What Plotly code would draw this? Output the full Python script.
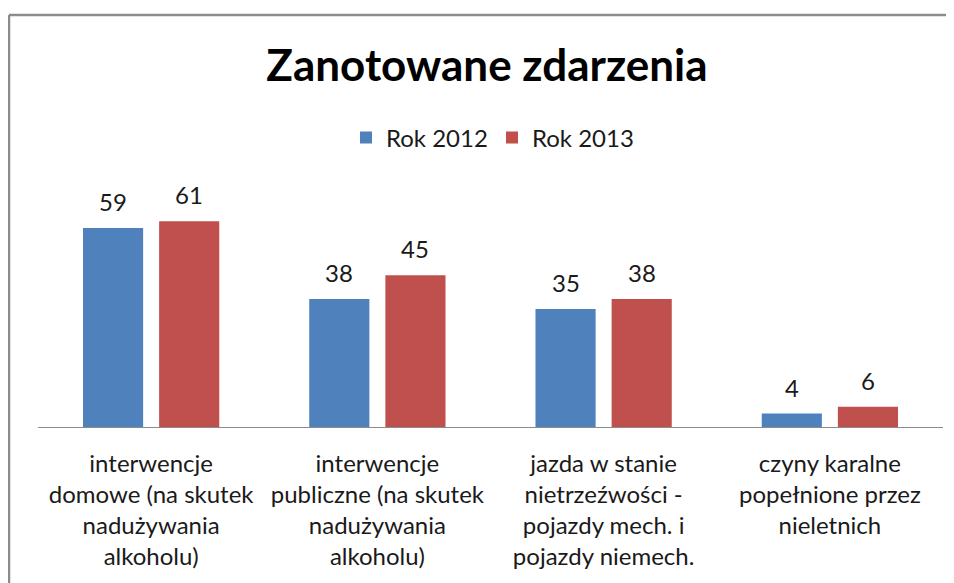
import plotly.graph_objects as go

categories = ["domowe", "publiczne", "jazda", "nieletni"]
tick_labels = [
    "interwencje<br>domowe (na skutek<br>nadużywania<br>alkoholu)",
    "interwencje<br>publiczne (na skutek<br>nadużywania<br>alkoholu)",
    "jazda w stanie<br>nietrzeźwości -<br>pojazdy mech. i<br>pojazdy niemech.",
    "czyny karalne<br>popełnione przez<br>nieletnich",
]
series_names = ["Rok 2012", "Rok 2013"]
values_2012 = [59, 38, 35, 4]
values_2013 = [61, 45, 38, 6]
colors = ["#4F81BD", "#C0504D"]

FONT = "Lato"
TXT = "#1a1a1a"

W, H = 946, 575  # page body adds 8px margin

fig = go.Figure()
for name, vals, col in zip(series_names, [values_2012, values_2013], colors):
    fig.add_trace(go.Bar(x=categories, y=vals, name=name, marker_color=col,
                         marker_line_width=0))

annotations = []
for k, vals in enumerate([values_2012, values_2013]):
    shift = -38 if k == 0 else 38
    for c, v in zip(categories, vals):
        annotations.append(dict(x=c, y=v, xref="x", yref="y", text=str(v),
                                showarrow=False, yanchor="bottom", xshift=shift,
                                yshift=10, font=dict(family=FONT, size=24, color=TXT)))

# plot area in page px: x 38..943, y 191..427
bx0 = (9 - 38) / 905
by1 = (427 - 15) / 236
border = dict(color="#8c8c8c", width=2.5)
fig.update_layout(
    width=W, height=H,
    margin=dict(l=30, r=W - 935, t=183, b=H - 419),
    paper_bgcolor="white", plot_bgcolor="white",
    barmode="group", bargap=0.327, bargroupgap=0.21,
    title=dict(text="<b>Zanotowane zdarzenia</b>", x=479 / W, xanchor="center",
               xref="container", yref="container", y=1 - 58 / H, yanchor="middle",
               font=dict(family=FONT, size=44, color="#000000")),
    legend=dict(orientation="h", x=(346 - 38) / 905, xanchor="left",
                y=(427 - 138) / 236, yanchor="middle", yref="paper",
                font=dict(family=FONT, size=24, color=TXT),
                entrywidth=101, entrywidthmode="pixels",
                bgcolor="rgba(0,0,0,0)", traceorder="normal"),
    annotations=annotations,
    shapes=[
        dict(type="line", xref="paper", yref="paper", x0=bx0, x1=1.1, y0=by1, y1=by1,
             line=border, layer="below"),
        dict(type="line", xref="paper", yref="paper", x0=bx0, x1=bx0, y0=-0.8, y1=by1,
             line=border, layer="below"),
    ],
)
fig.update_xaxes(showline=True, linecolor="#8c8c8c", linewidth=1,
                 tickvals=categories, ticktext=tick_labels, ticks="",
                 ticklabelstandoff=15,
                 tickfont=dict(family=FONT, size=24, color=TXT), showgrid=False)
fig.update_yaxes(visible=False, range=[0, 70], fixedrange=True)

fig.write_html("out.html")
